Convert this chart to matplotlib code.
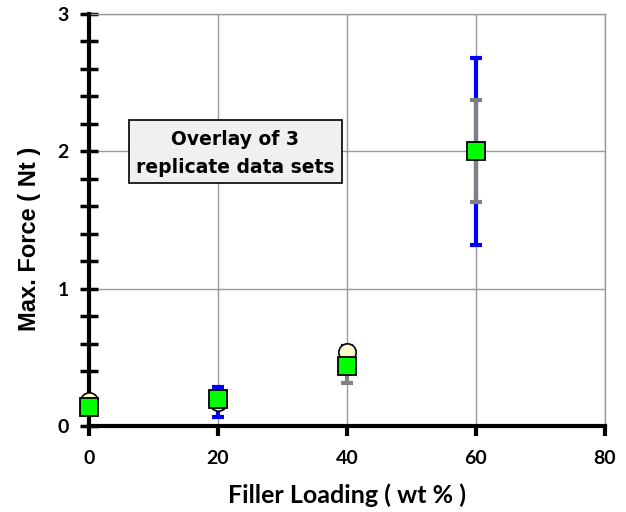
import numpy as np
import matplotlib.pyplot as plt
from matplotlib.patches import Rectangle
from matplotlib.ticker import MultipleLocator

# -----------------------------
# Data
# -----------------------------
loading = [0, 20, 40, 60]

# replicate A: circles, blue error bars
force_a = [0.185, 0.175, 0.54, 2.0]
err_a = [0.01, 0.11, 0.04, 0.68]

# replicate B: squares, gray error bars
force_b = [0.14, 0.20, 0.44, 2.0]
err_b = [0.01, 0.02, 0.13, 0.37]

x_ticks = [0, 20, 40, 60, 80]
y_ticks = [0, 1, 2, 3]

plt.rcParams['font.family'] = ['Lato', 'DejaVu Sans']
plt.rcParams['font.weight'] = 'bold'

fig = plt.figure(figsize=(6.26, 5.12), dpi=100)
ax = fig.add_axes([0.142, 0.168, 0.824, 0.805])

ax.errorbar(loading, force_a, yerr=err_a, fmt='none', ecolor='#0000FF',
            elinewidth=3, capsize=4, capthick=3, zorder=3)
ax.errorbar(loading, force_b, yerr=err_b, fmt='none', ecolor='#808080',
            elinewidth=3, capsize=4, capthick=3, zorder=3)
ax.plot(loading, force_a, 'o', ms=12.5, mfc='#FFFFCC', mec='black', mew=1.2,
        zorder=7, clip_on=False)
ax.plot(loading, force_b, 's', ms=13.5, mfc='#00FF00', mec='black', mew=1.3,
        zorder=8, clip_on=False)

ax.set_xlim(0, 80)
ax.set_ylim(0, 3)
ax.set_xticks(x_ticks)
ax.set_yticks(y_ticks)
ax.yaxis.set_minor_locator(MultipleLocator(0.2))

ax.grid(True, color='#999999', lw=1)
ax.set_axisbelow(True)

for s in ['top', 'right']:
    ax.spines[s].set_color('#999999')
    ax.spines[s].set_linewidth(1)
for s in ['left', 'bottom']:
    ax.spines[s].set_color('black')
    ax.spines[s].set_linewidth(3)
    ax.spines[s].set_zorder(6)

ax.tick_params(axis='y', which='both', direction='inout', length=13, width=2.5,
               labelsize=14, pad=8)
ax.tick_params(axis='x', which='major', direction='out', length=7, width=3,
               labelsize=14, pad=10)

ax.set_xlabel('Filler Loading ( wt % )', fontsize=18, fontweight='bold', labelpad=12)
ax.set_ylabel('Max. Force ( Nt )', family='Liberation Sans', fontsize=17,
              fontweight='bold')
ax.yaxis.set_label_coords(-0.093, 0.455)

# annotation box
ax.add_patch(Rectangle((0.0775, 0.590), 0.413, 0.153, transform=ax.transAxes,
                       fc='#F0F0F0', ec='black', lw=1.2, zorder=9))
ax.text(0.284, 0.660, 'Overlay of 3\nreplicate data sets', transform=ax.transAxes,
        ha='center', va='center', family='DejaVu Sans',
        fontsize=13.5, fontweight='bold', linespacing=1.6, zorder=10)

fig.savefig('out.png', dpi=100)
